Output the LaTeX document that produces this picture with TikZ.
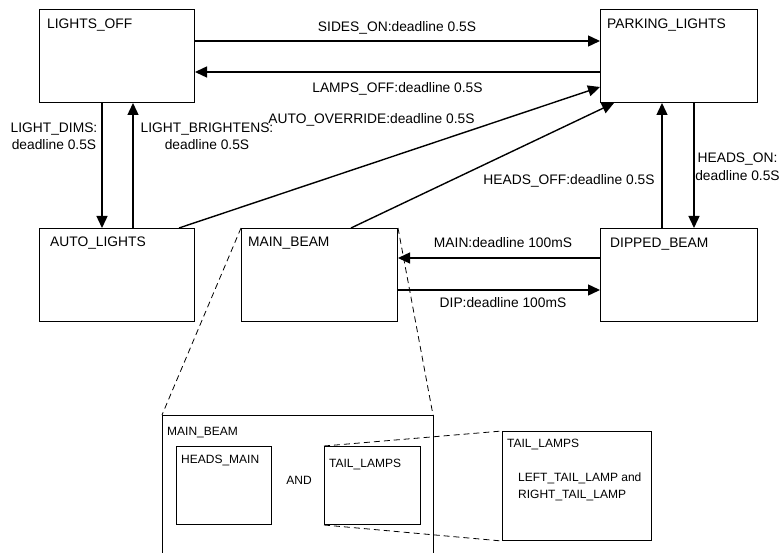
\documentclass[tikz,border=0pt]{standalone}
\usepackage{fontspec}
\setmainfont{Liberation Sans}
\usetikzlibrary{arrows.meta}
\begin{document}
\begin{tikzpicture}[x=1bp,y=-1bp,
  every node/.style={font=\fontsize{13.8bp}{17.5bp}\selectfont},
  small/.style={font=\fontsize{12bp}{17bp}\selectfont},
  box/.style={draw, line width=1bp, anchor=north west, inner sep=0pt},
  title/.style={anchor=base west, inner sep=0pt},
  elabel/.style={anchor=base, inner sep=0pt},
  mlabel/.style={align=center, inner sep=0pt},
  arr/.style={line width=1.4bp, -{Triangle[length=12bp,width=11bp]}},
  dsh/.style={line width=0.8bp, dash pattern=on 6bp off 4bp},
  plain/.style={line width=1bp}]
\useasboundingbox (0,0) rectangle (780,553);

% state boxes
\node[box, minimum width=155bp, minimum height=93bp] (lo) at (39,9) {};
\node[box, minimum width=157bp, minimum height=93bp] (pl) at (600,9) {};
\node[box, minimum width=155bp, minimum height=93bp] (al) at (39,228) {};
\node[box, minimum width=156bp, minimum height=93bp] (mb) at (241,228) {};
\node[box, minimum width=157bp, minimum height=93bp] (db) at (600,228) {};

\node[title] (tlo) at (47,29) {LIGHTS\_OFF};
\node[title] (tpl) at (607,29) {PARKING\_LIGHTS};
\node[title] (tal) at (50,247) {AUTO\_LIGHTS};
\node[title] (tmb) at (248,247) {MAIN\_BEAM};
\node[title] (tdb) at (610,248) {DIPPED\_BEAM};

% transitions
\draw[arr] (lo.east |- 0,41) -- (pl.west |- 0,41);
\draw[arr] (pl.west |- 0,72) -- (lo.east |- 0,72);
\draw[arr] (lo.south -| 102,0) -- (al.north -| 102,0);
\draw[arr] (al.north -| 133,0) -- (lo.south -| 133,0);
\draw[arr] (al.north -| 179,0) -- (pl.west |- 0,87);
\draw[arr] (mb.north -| 351,0) -- (pl.south -| 614,0);
\draw[arr] (db.north -| 662,0) -- (pl.south -| 662,0);
\draw[arr] (pl.south -| 694,0) -- (db.north -| 694,0);
\draw[arr] (db.west |- 0,258) -- (mb.east |- 0,258);
\draw[arr] (mb.east |- 0,290) -- (db.west |- 0,290);

\node[elabel] (lsides) at (397,32) {SIDES\_ON:deadline 0.5S};
\node[elabel] (llamps) at (397.5,93) {LAMPS\_OFF:deadline 0.5S};
\node[elabel] (lauto) at (371.5,124) {AUTO\_OVERRIDE:deadline 0.5S};
\node[elabel] (lheadsoff) at (569,185) {HEADS\_OFF:deadline 0.5S};
\node[mlabel] (ldims) at (54,136.5) {LIGHT\_DIMS:\\deadline 0.5S};
\node[mlabel] (lbright) at (207,136.5) {LIGHT\_BRIGHTENS:\\deadline 0.5S};
\node[mlabel] (lheadson) at (737.5,167) {HEADS\_ON:\\deadline 0.5S};
\node[elabel] (lmain) at (503,248) {MAIN:deadline 100mS};
\node[elabel] (ldip) at (503,308) {DIP:deadline 100mS};

% expanded MAIN_BEAM
\coordinate (bnw) at (162,415);
\coordinate (bne) at (433,415);
\coordinate (bsw) at (162,553);
\coordinate (bse) at (433,553);
\draw[plain] (bsw) -- (bnw) -- (bne) -- (bse);
\draw[dsh] (mb.north west) -- (bnw);
\draw[dsh] (mb.north east) -- (bne);
\node[title, small] (tbmb) at (167,435) {MAIN\_BEAM};

\node[box, minimum width=95bp, minimum height=78bp] (hm) at (176,446) {};
\node[box, minimum width=96bp, minimum height=78bp] (tl) at (324,446) {};
\node[title, small] (thm) at (181,463) {HEADS\_MAIN};
\node[title, small] (ttl) at (329,467) {TAIL\_LAMPS};
\node[elabel, small] (land) at (299,484) {AND};

% expanded TAIL_LAMPS
\node[box, minimum width=149bp, minimum height=109bp] (btl) at (502,431) {};
\node[title, small] (tbtl) at (507,447) {TAIL\_LAMPS};
\node[title, small] (tleft) at (518,481) {LEFT\_TAIL\_LAMP and};
\node[title, small] (tright) at (518,498) {RIGHT\_TAIL\_LAMP};
\draw[dsh] (tl.north west) -- (btl.north west);
\draw[dsh] (tl.south west) -- (btl.south west);
\end{tikzpicture}
\end{document}
